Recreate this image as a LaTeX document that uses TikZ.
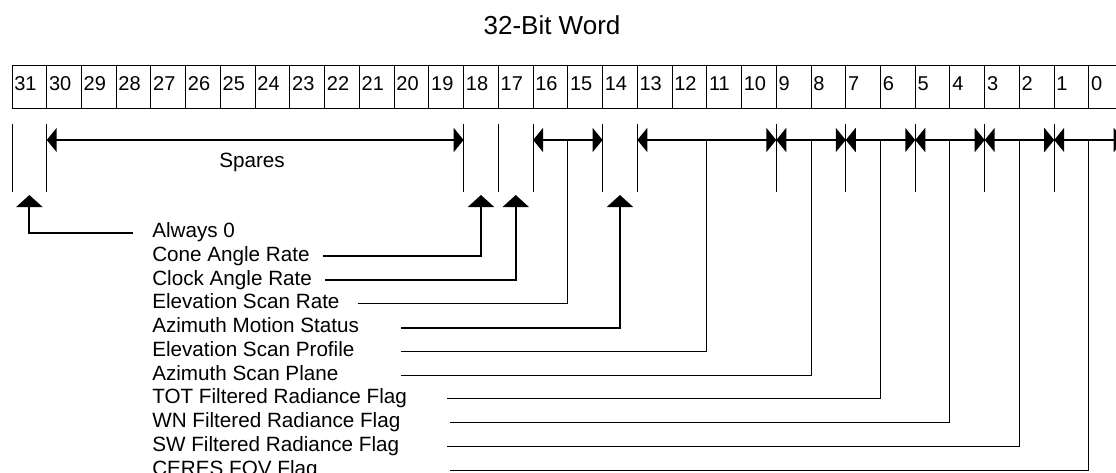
\documentclass[tikz,border=0pt]{standalone}
\usepackage{fontspec}
\setmainfont{Liberation Sans}
\usetikzlibrary{arrows.meta,calc}

\begin{document}
\begin{tikzpicture}[x=0.75pt, y=-0.75pt,
    lbl/.style={anchor=base west, inner sep=0pt, font=\fontsize{15.5}{18}\selectfont},
    bitnum/.style={anchor=west, inner sep=0pt, font=\fontsize{15}{18}\selectfont},
    tick/.style={line width=0.75pt},
    span/.style={line width=1.5pt, {Triangle[length=7.5pt,width=18pt]}-{Triangle[length=7.5pt,width=18pt]}},
    lead/.style={line width=0.75pt},
    leadup/.style={line width=1.5pt, -{Triangle[length=9pt,width=19.5pt]}}]
    \useasboundingbox (0,0) rectangle (1116,472);

    % Title
    \node[anchor=base, inner sep=0pt, font=\fontsize{19.5}{22}\selectfont] (title) at (552,34) {32-Bit Word};

    % Bit cells, bit 31 on the left
    \foreach \b in {0,...,31} {
        \pgfmathsetmacro\xl{12+(31-\b)*34.74}
        \draw[line width=0.75pt] (\xl,65) rectangle ++(34.74,43.3);
        \node[bitnum] (n\b) at (\xl+2,84) {\b};
        \coordinate (L\b) at (\xl,140);
        \coordinate (tip\b) at (\xl+17.37,195);
    }
    \coordinate (R0) at (1123.7,140);

    % Field boundary ticks
    \foreach \b in {31,30,18,17,16,14,13,9,7,5,3,1}
        \draw[tick] (L\b) ++(0,-16) -- ++(0,68);

    % Field spans
    \draw[span] (L30) -- (L18);
    \node[lbl, anchor=base] (spares) at (252,167.5) {Spares};
    \draw[span] (L16) -- (L14);
    \draw[span] (L13) -- (L9);
    \draw[span] (L9) -- (L7);
    \draw[span] (L7) -- (L5);
    \draw[span] (L5) -- (L3);
    \draw[span] (L3) -- (L1);
    \draw[span] (L1) -- (R0);

    % Labels
    \node[lbl] (always) at (152,237.5) {Always 0};
    \node[lbl] (cone)   at (152,261.25) {Cone Angle Rate};
    \node[lbl] (clock)  at (152,285) {Clock Angle Rate};
    \node[lbl] (esr)    at (152,308.75) {Elevation Scan Rate};
    \node[lbl] (ams)    at (152,332.5) {Azimuth Motion Status};
    \node[lbl] (esp)    at (152,356.25) {Elevation Scan Profile};
    \node[lbl] (asp)    at (152,380) {Azimuth Scan Plane};
    \node[lbl] (tot)    at (152,403.75) {TOT Filtered Radiance Flag};
    \node[lbl] (wn)     at (152,427.5) {WN Filtered Radiance Flag};
    \node[lbl] (sw)     at (152,451.25) {SW Filtered Radiance Flag};
    \node[lbl] (ceres)  at (152,475) {CERES FOV Flag};

    % Leaders to single bits
    \draw[leadup] (133,232.5) -| (tip31);
    \draw[leadup] (323,256.25) -| (tip18);
    \draw[leadup] (325,280) -| (tip17);
    \draw[leadup] (401,327.5) -| (tip14);

    % Leaders to multi-bit spans
    \draw[lead] (358,303.75) -| ($(L16)!0.5!(L14)$);
    \draw[lead] (401,351.25) -| ($(L13)!0.5!(L9)$);
    \draw[lead] (401,375) -| ($(L9)!0.5!(L7)$);
    \draw[lead] (447,398.75) -| ($(L7)!0.5!(L5)$);
    \draw[lead] (450,422.5) -| ($(L5)!0.5!(L3)$);
    \draw[lead] (447,446.25) -| ($(L3)!0.5!(L1)$);
    \draw[lead] (450,470) -| ($(L1)!0.5!(R0)$);
\end{tikzpicture}
\end{document}
